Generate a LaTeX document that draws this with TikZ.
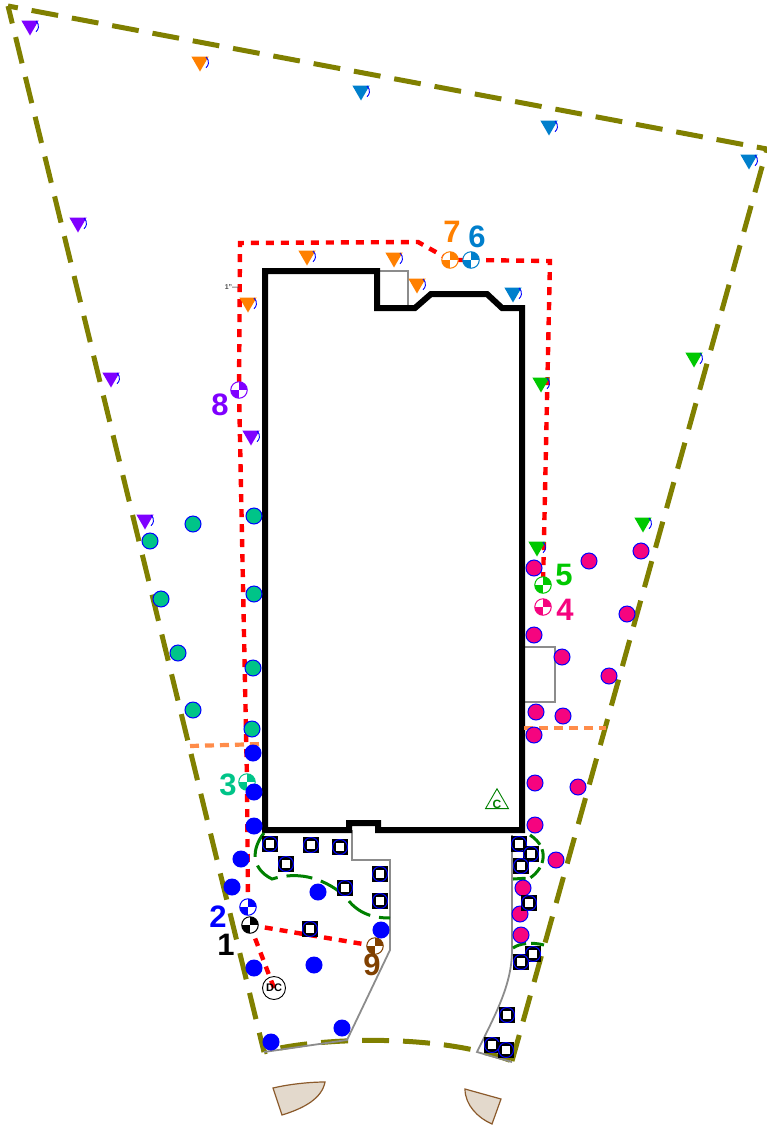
\documentclass[tikz,border=0pt]{standalone}
\usepackage{fontspec}
\setmainfont{Liberation Sans}
\usetikzlibrary{shapes.geometric}
\definecolor{olivec}{HTML}{808000}
\definecolor{redc}{HTML}{FF0000}
\definecolor{orangec}{HTML}{FF8000}
\definecolor{peach}{HTML}{FF8C4A}
\definecolor{purplec}{HTML}{7F00FF}
\definecolor{bluec}{HTML}{0000FF}
\definecolor{skyc}{HTML}{007FCC}
\definecolor{greenc}{HTML}{00C800}
\definecolor{tealc}{HTML}{00C488}
\definecolor{magc}{HTML}{F5047F}
\definecolor{brownc}{HTML}{804000}
\definecolor{tanc}{HTML}{E3D9CC}
\definecolor{doorc}{HTML}{8B5A2B}
\definecolor{darkg}{HTML}{008000}
\definecolor{grayc}{HTML}{8C8C8C}
\pgfdeclarelayer{under}
\pgfsetlayers{under,main}
\tikzset{
 x=1pt,y=-1pt,
 boundary/.style={draw=olivec,line width=5pt,dash pattern=on 27pt off 14pt},
 wall/.style={draw=black,line width=6pt,miter limit=10},
 grayl/.style={draw=grayc,line width=1.8pt},
 redline/.style={draw=redc,line width=4.4pt,dash pattern=on 8pt off 7pt},
 peachline/.style={draw=peach,line width=4.2pt,dash pattern=on 9pt off 6pt},
 greenline/.style={draw=darkg,line width=3pt,dash pattern=on 26pt off 9pt},
 dot/.style={circle,draw=bluec,line width=1pt,minimum size=16pt,inner sep=0pt},
 bluedot/.style={dot,fill=bluec},
 magdot/.style={dot,fill=magc},
 tealdot/.style={dot,fill=tealc},
 sq/.style={rectangle,fill=white,draw=black,line width=3.6pt,minimum size=12.5pt,inner sep=0pt},
 sqring/.style={draw=bluec,line width=1pt},
 door/.style={draw=doorc,line width=1.2pt,fill=tanc},
 lbl/.style={font=\bfseries\fontsize{31}{31}\selectfont,inner sep=0pt},
 tri/.style={draw=none,fill=#1,regular polygon,regular polygon sides=3,shape border rotate=180,minimum size=20pt,inner sep=0pt,outer sep=0pt,yshift=2.5pt},
 triarc/.style={draw=bluec,line width=.9pt},
 mk/.style={circle,draw=#1,line width=1pt,minimum size=16.5pt,inner sep=0pt,fill=white,
   path picture={\fill[#1] (path picture bounding box.center) rectangle (path picture bounding box.north east);
                 \fill[#1] (path picture bounding box.center) rectangle (path picture bounding box.south west);}},
 smallb/.style={font=\bfseries\fontsize{#1}{#1}\selectfont,inner sep=0pt},
}
\begin{document}
\begin{tikzpicture}
\useasboundingbox (0,0) rectangle (767,1125);
% markers
\node[mk=black] (m1) at (250,925) {};
\node[mk=bluec] (m2) at (248,907) {};
\node[mk=tealc] (m3) at (247,782) {};
\node[mk=magc] (m4) at (543,607) {};
\node[mk=greenc] (m5) at (543,585) {};
\node[mk=skyc] (m6) at (471,260) {};
\node[mk=orangec] (m7) at (450,260) {};
\node[mk=purplec] (m8) at (239,390) {};
\node[mk=brownc] (m9) at (375,946) {};
\node[circle,draw=black,line width=.9pt,minimum size=23pt,inner sep=0pt,smallb=11] (dc) at (274,988) {DC};
\coordinate (ra) at (240,243);
\coordinate (rb) at (418,242);
\coordinate (rc) at (550,261);
\coordinate (rd) at (247,780);
\coordinate (bnw) at (8,6);
\coordinate (bne) at (767,149);
\coordinate (bse) at (512,1061);
\coordinate (bsw) at (264,1052);
\begin{pgfonlayer}{under}
% boundary
\draw[boundary] (bse) -- (bne);
\draw[boundary,dash phase=17pt] (bnw) -- (bne);
\draw[boundary,dash phase=9pt] (bnw) -- (bsw);
\draw[boundary,dash phase=24pt] (bsw) .. controls (300,1040) and (430,1030) .. (bse);
% doors
\draw[door] (273,1088) .. controls (290,1084) and (310,1082) .. (325,1082) .. controls (322,1098) and (305,1108) .. (282,1115) -- cycle;
\draw[door] (465,1089) -- (501,1099) -- (492,1124) .. controls (478,1118) and (465,1105) .. (465,1089) -- cycle;
% gray
\draw[grayl] (377,271) -- (408,271) -- (408,308);
\draw[grayl] (524,647) -- (555,647) -- (555,702) -- (524,702);
\draw[grayl] (352,830) -- (352,860) -- (390,860) -- (390,950) -- (347,1040) -- (264,1052);
\draw[grayl] (512,835) -- (512,950) .. controls (512,985) and (495,1015) .. (477,1052) -- (512,1062);
% building
\draw[wall] (265,271) -- (377,271) -- (377,308) -- (415,308) -- (431,294) -- (487,294) -- (502,308) -- (522,308) -- (522,830) -- (378,830) -- (378,823) -- (349,823) -- (349,830) -- (265,830) -- cycle;
% green dashed
\draw[greenline] (264,833) .. controls (252,848) and (250,868) .. (272,879) .. controls (295,872) and (320,875) .. (345,896) .. controls (358,915) and (375,918) .. (390,918);
\draw[greenline,dash pattern=on 14pt off 5pt] (530,835) .. controls (550,848) and (545,868) .. (530,878) -- (513,879);
\draw[greenline,dash pattern=on 14pt off 5pt] (513,948) .. controls (520,943) and (532,942) .. (544,945);
% red
\draw[redline] (dc.center) -- (m1.center);
\draw[redline] (m1.center) -- (m9.center);
\draw[redline] (m2.center) -- (rd) -- (m8.center) -- (ra) -- (rb) -- (m7.center) -- (m6.center) -- (rc) -- (m5.center);
% peach
\draw[peachline] (190,746) -- (262,744);
\draw[peachline] (524,728) -- (606,728);
\end{pgfonlayer}
% dots
\foreach \i/\x/\y in {1/253/753,2/254/792,3/254/826,4/241/859,5/232/887,6/318/892,7/381/930,8/254/968,9/314/965,10/342/1028,11/271/1042}
  \node[bluedot] (b\i) at (\x,\y) {};
\foreach \i/\x/\y in {1/534/568,2/589/561,3/641/551,4/627/614,5/534/635,6/562/657,7/609/676,8/536/712,9/563/716,10/534/735,11/578/787,12/535/783,13/535/825,14/556/860,15/523/888,16/520/914,17/521/935}
  \node[magdot] (g\i) at (\x,\y) {};
\foreach \i/\x/\y in {1/254/516,2/193/524,3/150/541,4/254/594,5/161/599,6/178/653,7/253/668,8/193/710,9/252/729}
  \node[tealdot] (t\i) at (\x,\y) {};
\foreach \i/\x/\y in {1/270/844,2/311/845,3/340/847,4/286/864,5/380/874,6/345/888,7/380/901,8/310/929,9/519/844,10/531/854,11/521/866,12/529/903,13/533/954,14/521/962,15/507/1015,16/492/1045,17/506/1050}{
  \node[sq] (s\i) at (\x,\y) {};
  \draw[sqring] (s\i.center) circle[radius=7.5pt];
}
% triangles
\foreach \i/\x/\y/\c in {1/30/28/purplec,2/78/225/purplec,3/111/380/purplec,4/145/522/purplec,5/251/438/purplec,6/200/64/orangec,7/307/258/orangec,8/394/260/orangec,9/417/286/orangec,10/248/305/orangec,11/361/93/skyc,12/549/128/skyc,13/749/162/skyc,14/513/295/skyc,15/694/360/greenc,16/541/385/greenc,17/643/525/greenc,18/537/549/greenc}{
  \node[tri=\c] (v\i) at (\x,\y) {};
  \draw[triarc] ([xshift=6pt,yshift=4.5pt]v\i.center) arc[start angle=50,end angle=-50,radius=7pt];
}
% labels
\node[lbl,text=black] (l1) at (226,945) {1};
\node[lbl,text=bluec] (l2) at (218,917) {2};
\node[lbl,text=tealc] (l3) at (228,785) {3};
\node[lbl,text=magc] (l4) at (565,610) {4};
\node[lbl,text=greenc] (l5) at (564,575) {5};
\node[lbl,text=skyc] (l6) at (477,237) {6};
\node[lbl,text=orangec] (l7) at (452,232) {7};
\node[lbl,text=purplec] (l8) at (220,405) {8};
\node[lbl,text=brownc] (l9) at (372,965) {9};
% C
\node[regular polygon,regular polygon sides=3,draw=darkg,line width=.9pt,minimum size=26.5pt,inner sep=0pt] (ctri) at (497,802) {};
\node[smallb=12,text=darkg] (cl) at (497,804) {C};
\node[smallb=7,text=black!70] (dim) at (232,287) {1"---};
\end{tikzpicture}
\end{document}
